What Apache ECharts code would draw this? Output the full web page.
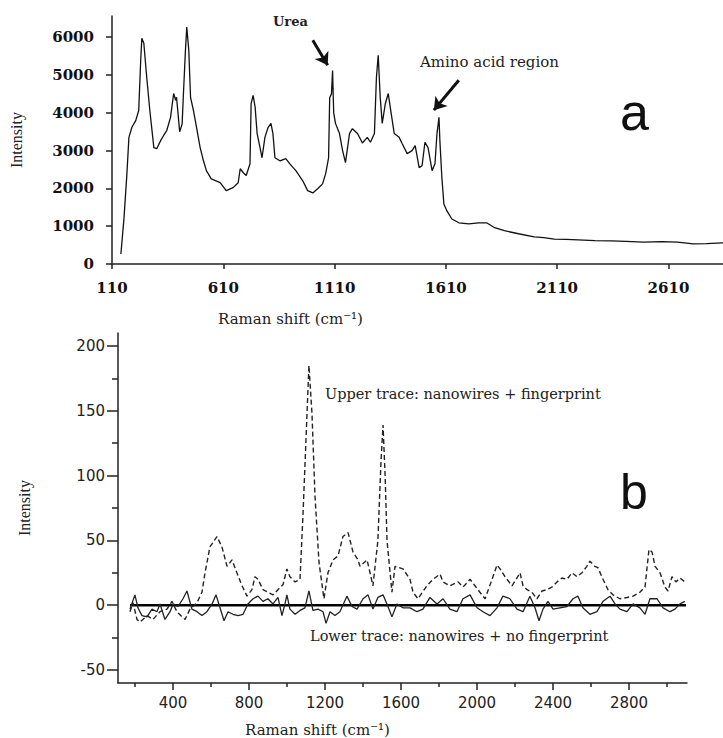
<!DOCTYPE html>
<html>
<head>
<meta charset="utf-8">
<title>Raman spectra</title>
<script src="https://cdn.jsdelivr.net/npm/echarts@6/dist/echarts.min.js"></script>
<style>
  html, body { margin: 0; padding: 0; background: #fff; }
  #chart { width: 723px; height: 738px; }
</style>
</head>
<body>
<div id="chart"></div>
<script>
'use strict';

// panel a : fingerprint spectrum
var topShift = [150, 164, 177, 186, 199, 217, 230, 239, 244, 253, 266, 280, 298, 311, 329, 342, 356, 373, 387, 396,
  400, 414, 425, 431, 440, 446, 455, 463, 476, 490, 506, 521, 534, 556, 596, 623, 654, 677, 686, 699,
  713, 730, 735, 744, 753, 762, 775, 784, 797, 811, 824, 833, 842, 864, 891, 909, 936, 967, 989, 1012,
  1034, 1056, 1070, 1083, 1088, 1096, 1101, 1106, 1114, 1132, 1146, 1159, 1177, 1190, 1213, 1235, 1257, 1271, 1289, 1298,
  1306, 1315, 1324, 1338, 1351, 1360, 1378, 1400, 1414, 1436, 1458, 1472, 1490, 1503, 1516, 1530, 1548, 1561, 1570, 1579,
  1583, 1592, 1601, 1614, 1637, 1668, 1713, 1757, 1793, 1829, 1873, 1936, 2007, 2050, 2097, 2150, 2204, 2280, 2351, 2420,
  2498, 2580, 2650, 2721, 2780, 2855];
var topIntensity = [265, 1220, 2390, 3350, 3610, 3800, 4060, 5390, 5970, 5840, 4940, 4060, 3080, 3050, 3270, 3400, 3530, 3880, 4510, 4330,
  4410, 3500, 3700, 4510, 5650, 6270, 5650, 4400, 4060, 3610, 3080, 2730, 2470, 2250, 2150, 1940, 2020, 2150, 2520, 2420,
  2340, 2650, 4240, 4460, 4150, 3450, 3080, 2810, 3350, 3610, 3720, 3450, 2810, 2730, 2790, 2650, 2470, 2200, 1940, 1880,
  1990, 2120, 2390, 2810, 4400, 4500, 5120, 4000, 3720, 3450, 3000, 2680, 3450, 3580, 3450, 3200, 3350, 3220, 3450, 4940,
  5520, 4410, 3720, 4240, 4510, 4150, 3450, 3350, 3180, 2920, 3000, 3130, 2550, 2600, 3220, 3080, 2470, 2650, 3450, 3880,
  3270, 2280, 1590, 1410, 1190, 1090, 1060, 1090, 1090, 960, 880, 800, 720, 700, 660, 650, 640, 620, 610, 600,
  580, 590, 580, 530, 540, 560];

// panel b : upper trace (nanowires + fingerprint)
var upperShift = [173, 189, 210, 226, 263, 294, 331, 368, 394, 420, 447, 463, 489, 526, 552, 568, 594, 631, 657, 684,
  710, 736, 763, 789, 815, 831, 847, 873, 899, 926, 952, 979, 999, 1015, 1042, 1068, 1084, 1105, 1115, 1131,
  1147, 1168, 1194, 1215, 1242, 1268, 1294, 1321, 1347, 1373, 1384, 1421, 1452, 1478, 1494, 1505, 1516, 1526, 1552, 1568,
  1610, 1647, 1663, 1689, 1736, 1768, 1805, 1821, 1857, 1900, 1926, 1963, 1989, 2015, 2042, 2079, 2105, 2121, 2147, 2184,
  2210, 2226, 2242, 2263, 2289, 2315, 2342, 2368, 2394, 2421, 2447, 2473, 2500, 2526, 2552, 2578, 2594, 2620, 2636, 2663,
  2689, 2715, 2752, 2789, 2821, 2857, 2884, 2894, 2905, 2921, 2937, 2963, 2989, 3005, 3026, 3047, 3068, 3094];
var upperValue = [-5, 2, -11, -13, -8, -11, -5, -3, 3, -5, -9, -11, -3, 2, 10, 25, 45, 53, 45, 30,
  35, 25, 15, 7, 12, 22, 20, 12, 10, 8, 12, 16, 28, 22, 18, 20, 71, 148, 185, 148,
  84, 33, 5, 25, 35, 38, 53, 56, 41, 35, 30, 35, 15, 50, 110, 139, 100, 50, 10, 30,
  28, 20, 10, 5, 15, 20, 24, 18, 15, 18, 14, 20, 15, 10, 5, 20, 31, 28, 22, 15,
  21, 25, 15, 12, 10, 5, 11, 12, 14, 18, 21, 20, 25, 22, 25, 30, 34, 30, 29, 20,
  12, 8, 5, 6, 7, 10, 14, 28, 43, 41, 30, 25, 14, 11, 22, 18, 21, 18];

// panel b : lower trace (nanowires + no fingerprint)
var lowerShift = [173, 199, 215, 236, 263, 289, 315, 331, 357, 384, 400, 426, 452, 473, 499, 526, 552, 578, 605, 626,
  647, 668, 689, 715, 742, 768, 794, 821, 847, 873, 899, 926, 952, 973, 989, 999, 1015, 1042, 1068, 1094,
  1115, 1136, 1163, 1189, 1205, 1226, 1252, 1278, 1315, 1342, 1368, 1400, 1426, 1452, 1478, 1505, 1531, 1552, 1578, 1610,
  1647, 1684, 1715, 1752, 1789, 1821, 1857, 1894, 1926, 1963, 2000, 2031, 2068, 2105, 2136, 2173, 2210, 2242, 2278, 2305,
  2326, 2347, 2373, 2400, 2436, 2473, 2505, 2531, 2557, 2594, 2631, 2663, 2700, 2726, 2752, 2789, 2821, 2857, 2884, 2910,
  2947, 2979, 3015, 3042, 3068, 3094];
var lowerValue = [-3, 8, -2, -8, -9, -3, -5, 1, -11, -5, 1, -1, 5, 11, -3, -5, -8, -5, 1, 8,
  -2, -12, -5, -7, -8, -7, 1, 5, 7, 3, 5, 1, 6, -8, 1, 8, -3, -7, -4, -2,
  11, -4, -3, -5, -14, -5, -8, -5, 7, -1, -3, 5, 8, -3, 6, 8, -1, -9, 1, -2,
  -2, -5, -3, 6, 1, 5, -3, -5, 5, 8, -2, -5, -8, -2, 7, 5, -3, -5, 7, -2,
  -12, -3, 3, -3, -2, -1, 5, 7, -2, -7, -5, 3, 7, 1, -3, -5, 1, -2, -7, 5,
  5, -2, -5, -3, 1, 3];

var zeroLineShift = [173, 3100];
var zeroLineValue = [0, 0];

// tick labels
var topXTicks = [110, 610, 1110, 1610, 2110, 2610];
var topYTicks = [0, 1000, 2000, 3000, 4000, 5000, 6000];
var bottomXTicks = [400, 800, 1200, 1600, 2000, 2400, 2800];
var bottomXMinor = [200, 600, 1000, 1400, 1800, 2200, 2600, 3000];
var bottomYTicks = [-50, 0, 50, 100, 150, 200];
var bottomYMinor = [-25, 25, 75, 125, 175];

// arrows (data coords)
var ureaArrow = [[1012, 5920], [1079, 5260]];
var aminoArrow = [[1668, 4860], [1556, 4070]];

function zip(xs, ys) {
	var out = [];
	for (var i = 0; i < xs.length; i++) out.push([xs[i], ys[i]]);
	return out;
}
function plain(v) {
	return String(v);
}
function hiddenLine() {
	return { show: true, onZero: false, lineStyle: { color: 'rgba(0,0,0,0)', width: 0 } };
}

var chart = echarts.init(document.getElementById('chart'), null, { renderer: 'svg' });

var axisLineStyle = { color: '#222', width: 1.5 };
var boldSerif = { fontFamily: 'DejaVu Serif', fontWeight: 'bold', fontSize: 15, color: '#111', formatter: plain };
var plainSans = { fontFamily: 'DejaVu Sans', fontSize: 15, color: '#222', formatter: plain };

var option = {
	animation: false,
	backgroundColor: '#fff',
	grid: [
		{ left: 108, top: 16, width: 615, height: 248 },
		{ left: 118, top: 333, width: 569, height: 350 },
		// strip starting at panel b's y axis, only carries the minor y ticks
		{ left: 118, top: 333, width: 58, height: 350 }
	],
	xAxis: [{
		type: 'value', gridIndex: 0, min: 110, max: 2855, position: 'bottom',
		axisLine: { onZero: false, lineStyle: axisLineStyle },
		axisTick: { show: true, customValues: topXTicks, length: 5, lineStyle: axisLineStyle },
		axisLabel: Object.assign({ customValues: topXTicks, margin: 16 }, boldSerif),
		splitLine: { show: false }
	}, {
		type: 'value', gridIndex: 1, min: 110, max: 3105, position: 'bottom',
		axisLine: { onZero: false, lineStyle: axisLineStyle },
		axisTick: { show: true, customValues: bottomXTicks, length: 7, lineStyle: axisLineStyle },
		axisLabel: Object.assign({ customValues: bottomXTicks, margin: 12 }, plainSans),
		splitLine: { show: false }
	}, {
		type: 'value', gridIndex: 1, min: 110, max: 3105, position: 'bottom',
		axisLine: hiddenLine(),
		axisTick: { show: true, customValues: bottomXMinor, length: 4, lineStyle: axisLineStyle },
		axisLabel: { show: false },
		splitLine: { show: false }
	}, {
		type: 'value', gridIndex: 2, min: 0, max: 1, show: false
	}],
	yAxis: [{
		type: 'value', gridIndex: 0, min: 0, max: 6560, position: 'left',
		name: 'Intensity', nameLocation: 'middle', nameGap: 88, nameRotate: 90,
		nameTextStyle: { fontFamily: 'Liberation Serif', fontSize: 16, color: '#222' },
		axisLine: { show: true, onZero: false, lineStyle: axisLineStyle },
		axisTick: { show: true, customValues: topYTicks, length: 6, lineStyle: axisLineStyle },
		axisLabel: Object.assign({ customValues: topYTicks, margin: 18 }, boldSerif),
		splitLine: { show: false }
	}, {
		type: 'value', gridIndex: 1, min: -60, max: 210, position: 'left',
		name: 'Intensity', nameLocation: 'middle', nameGap: 86, nameRotate: 90,
		nameTextStyle: { fontFamily: 'Liberation Serif', fontSize: 16, color: '#222' },
		axisLine: { show: true, onZero: false, lineStyle: axisLineStyle },
		axisTick: { show: true, customValues: bottomYTicks, length: 11, lineStyle: axisLineStyle },
		axisLabel: Object.assign({ customValues: bottomYTicks, margin: 13 }, plainSans),
		splitLine: { show: false }
	}, {
		type: 'value', gridIndex: 2, min: -60, max: 210, position: 'right',
		axisLine: { show: false },
		axisTick: { show: true, inside: true, customValues: bottomYMinor, length: 6, lineStyle: axisLineStyle },
		axisLabel: { show: false },
		splitLine: { show: false }
	}],
	series: [{
		name: 'fingerprint',
		type: 'line', xAxisIndex: 0, yAxisIndex: 0,
		data: zip(topShift, topIntensity),
		showSymbol: false, symbol: 'none',
		lineStyle: { color: '#111', width: 1.3 },
		markLine: {
			silent: true,
			symbol: ['none', 'arrow'],
			symbolSize: [12, 12],
			label: { show: false },
			lineStyle: { color: '#111', width: 3, type: 'solid' },
			data: [
				[{ coord: ureaArrow[0] }, { coord: ureaArrow[1] }],
				[{ coord: aminoArrow[0] }, { coord: aminoArrow[1] }]
			]
		}
	}, {
		name: 'zero',
		type: 'line', xAxisIndex: 1, yAxisIndex: 1,
		data: zip(zeroLineShift, zeroLineValue),
		showSymbol: false, symbol: 'none',
		lineStyle: { color: '#000', width: 2.5 }
	}, {
		name: 'upper',
		type: 'line', xAxisIndex: 1, yAxisIndex: 1,
		data: zip(upperShift, upperValue),
		showSymbol: false, symbol: 'none',
		lineStyle: { color: '#222', width: 1.4, type: [5, 3] }
	}, {
		name: 'lower',
		type: 'line', xAxisIndex: 1, yAxisIndex: 1,
		data: zip(lowerShift, lowerValue),
		showSymbol: false, symbol: 'none',
		lineStyle: { color: '#222', width: 1.3 }
	}, {
		// empty series so the strip grid gets its axes built
		name: 'minorTicks',
		type: 'line', xAxisIndex: 3, yAxisIndex: 2,
		data: [], silent: true
	}],
	graphic: [
		{ type: 'text', left: 273, top: 15, style: { text: 'Urea', font: 'bold 13px "DejaVu Serif"', fill: '#222' } },
		{ type: 'text', left: 420, top: 54, style: { text: 'Amino acid region', font: '15px "DejaVu Serif"', fill: '#222' } },
		{ type: 'text', left: 620, top: 86, style: { text: 'a', font: '52px "Liberation Sans"', fill: '#111' } },
		{ type: 'text', left: 218, top: 311, style: { text: 'Raman shift (cm\u207B\u00B9)', font: '15px "DejaVu Serif"', fill: '#222' } },
		{ type: 'text', left: 325, top: 386, style: { text: 'Upper trace: nanowires + fingerprint', font: '14.5px "DejaVu Serif"', fill: '#222' } },
		{ type: 'text', left: 620, top: 467, style: { text: 'b', font: '50px "Liberation Sans"', fill: '#111' } },
		{ type: 'text', left: 310, top: 628, style: { text: 'Lower trace: nanowires + no fingerprint', font: '14.5px "DejaVu Serif"', fill: '#222' } },
		{ type: 'text', left: 245, top: 722, style: { text: 'Raman shift (cm\u207B\u00B9)', font: '15px "DejaVu Serif"', fill: '#222' } }
	]
};

chart.setOption(option);
</script>
</body>
</html>
